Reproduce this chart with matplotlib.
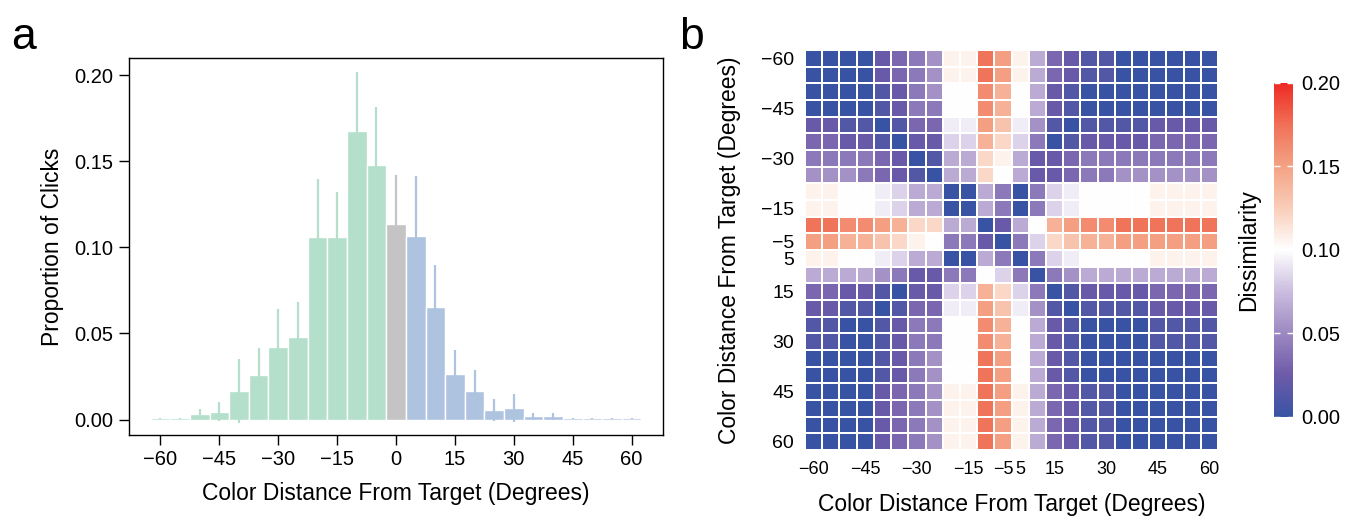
import numpy as np
import matplotlib
matplotlib.use('Agg')
from matplotlib import pyplot as plt
from matplotlib.colors import LinearSegmentedColormap

plt.rcParams['font.family'] = ['Liberation Sans', 'DejaVu Sans']

# Panel a: histogram of click distances
bin_centers = [-60, -55, -50, -45, -40, -35, -30, -25, -20, -15, -10, -5, 0,
               5, 10, 15, 20, 25, 30, 35, 40, 45, 50, 55, 60]
proportions = [0.0006, 0.0006, 0.0030, 0.0044, 0.0164, 0.0259, 0.0422, 0.0482,
               0.1063, 0.1059, 0.1675, 0.1477, 0.1133, 0.1067, 0.0654, 0.0265,
               0.0164, 0.0058, 0.0067, 0.0019, 0.0019, 0.0006, 0.0006, 0.0006, 0.0006]
errors = [0.0004, 0.0004, 0.0034, 0.0055, 0.0185, 0.0155, 0.0221, 0.0198,
          0.0335, 0.0261, 0.0344, 0.0339, 0.0290, 0.0350, 0.0242, 0.0138,
          0.0126, 0.0064, 0.0080, 0.0021, 0.0021, 0.0003, 0.0003, 0.0003, 0.0003]

# Panel b: dissimilarity matrix
dist_labels = [-60, -55, -50, -45, -40, -35, -30, -25, -20, -15, -10, -5,
               5, 10, 15, 20, 25, 30, 35, 40, 45, 50, 55, 60]
shown_ticks = [-60, -45, -30, -15, -5, 5, 15, 30, 45, 60]
dissim = [
    [0, 0, 0, 0, .022, .032, .042, .054, .107, .107, .173, .151, .107, .066, .032, .022, .012, .012, 0, 0, 0, 0, 0, 0],
    [0, 0, 0, 0, .022, .032, .042, .054, .107, .107, .173, .151, .107, .066, .032, .022, .012, .012, 0, 0, 0, 0, 0, 0],
    [0, 0, 0, 0, .012, .022, .042, .054, .100, .100, .161, .141, .100, .066, .022, .012, 0, 0, 0, 0, 0, 0, 0, 0],
    [0, 0, 0, 0, .012, .022, .042, .042, .100, .100, .161, .141, .100, .066, .022, .012, 0, 0, 0, 0, 0, 0, 0, 0],
    [.022, .022, .012, .012, 0, .012, .032, .032, .093, .093, .151, .131, .093, .054, .012, 0, .012, .012, .012, .012, .022, .022, .022, .022],
    [.032, .032, .022, .022, .012, 0, .022, .022, .083, .083, .141, .120, .083, .042, 0, .012, .022, .022, .022, .022, .032, .032, .032, .032],
    [.042, .042, .042, .042, .032, .022, 0, .012, .066, .066, .120, .107, .066, .022, .022, .032, .042, .042, .042, .042, .042, .042, .042, .042],
    [.054, .054, .054, .042, .032, .022, .012, 0, .066, .066, .120, .100, .066, .022, .022, .032, .042, .042, .054, .054, .054, .054, .054, .054],
    [.107, .107, .100, .100, .093, .083, .066, .066, 0, 0, .066, .042, 0, .042, .083, .093, .100, .100, .100, .100, .107, .107, .107, .107],
    [.107, .107, .100, .100, .093, .083, .066, .066, 0, 0, .066, .042, 0, .042, .083, .093, .100, .100, .100, .100, .107, .107, .107, .107],
    [.173, .173, .161, .161, .151, .141, .120, .120, .066, .066, 0, .022, .066, .100, .141, .151, .161, .161, .173, .173, .173, .173, .173, .173],
    [.151, .151, .141, .141, .131, .120, .107, .100, .042, .042, .022, 0, .042, .083, .120, .131, .141, .141, .151, .151, .151, .151, .151, .151],
    [.107, .107, .100, .100, .093, .083, .066, .066, 0, 0, .066, .042, 0, .042, .083, .093, .100, .100, .100, .100, .107, .107, .107, .107],
    [.066, .066, .066, .066, .054, .042, .022, .022, .042, .042, .100, .083, .042, 0, .042, .054, .066, .066, .066, .066, .066, .066, .066, .066],
    [.032, .032, .022, .022, .012, 0, .022, .022, .083, .083, .141, .120, .083, .042, 0, .012, .022, .022, .022, .022, .032, .032, .032, .032],
    [.022, .022, .012, .012, 0, .012, .032, .032, .093, .093, .151, .131, .093, .054, .012, 0, .012, .012, .012, .012, .022, .022, .022, .022],
    [.012, .012, 0, 0, .012, .022, .042, .042, .100, .100, .161, .141, .100, .066, .022, .012, 0, 0, 0, 0, .012, .012, .012, .012],
    [.012, .012, 0, 0, .012, .022, .042, .042, .100, .100, .161, .141, .100, .066, .022, .012, 0, 0, 0, 0, .012, .012, .012, .012],
    [0, 0, 0, 0, .012, .022, .042, .054, .100, .100, .173, .151, .100, .066, .022, .012, 0, 0, 0, 0, 0, 0, 0, 0],
    [0, 0, 0, 0, .012, .022, .042, .054, .100, .100, .173, .151, .100, .066, .022, .012, 0, 0, 0, 0, 0, 0, 0, 0],
    [0, 0, 0, 0, .022, .032, .042, .054, .107, .107, .173, .151, .107, .066, .032, .022, .012, .012, 0, 0, 0, 0, 0, 0],
    [0, 0, 0, 0, .022, .032, .042, .054, .107, .107, .173, .151, .107, .066, .032, .022, .012, .012, 0, 0, 0, 0, 0, 0],
    [0, 0, 0, 0, .022, .032, .042, .054, .107, .107, .173, .151, .107, .066, .032, .022, .012, .012, 0, 0, 0, 0, 0, 0],
    [0, 0, 0, 0, .022, .032, .042, .054, .107, .107, .173, .151, .107, .066, .032, .022, .012, .012, 0, 0, 0, 0, 0, 0],
]

GREEN = '#b3dfcb'
GRAY = '#c4c4c4'
BLUE = '#aec3e0'

fig = plt.figure(figsize=(13.61, 5.19), dpi=100)

# ---- panel a
ax1 = fig.add_axes([0.0948, 0.1618, 0.3924, 0.7264])
cols = [GREEN if c < 0 else (GRAY if c == 0 else BLUE) for c in bin_centers]
ax1.bar(bin_centers, proportions, width=5, color=cols, edgecolor='white', linewidth=1.0, zorder=2)
for c, p, e, col in zip(bin_centers, proportions, errors, cols):
    ax1.plot([c, c], [p - e, p + e], color=col, lw=1.6, solid_capstyle='butt', zorder=3)
ax1.set_xlim(-68, 68)
ax1.set_ylim(-0.009, 0.21)
ax1.set_xticks([-60, -45, -30, -15, 0, 15, 30, 45, 60])
ax1.set_yticks([0, 0.05, 0.10, 0.15, 0.20])
ax1.set_yticklabels(['0.00', '0.05', '0.10', '0.15', '0.20'])
ax1.tick_params(labelsize=14.5, length=7, width=1, direction='out', pad=4)
for s in ax1.spines.values():
    s.set_linewidth(1.0)
ax1.set_xlabel('Color Distance From Target (Degrees)', fontsize=16.5, labelpad=9)
ax1.set_ylabel('Proportion of Clicks', fontsize=16.5, labelpad=8)

# ---- panel b
cmap = LinearSegmentedColormap.from_list('dissim', [
    (0.0, '#3953a4'), (0.125, '#6e5ba9'), (0.25, '#9c89c1'), (0.375, '#cbbddf'),
    (0.5, '#ffffff'), (0.625, '#f9cdb9'), (0.75, '#f4a284'), (0.875, '#f07157'),
    (1.0, '#ee2a24')])

ax2 = fig.add_axes([0.5915, 0.1329, 0.3035, 0.7707])
n = len(dist_labels)
mesh = ax2.pcolormesh(np.arange(n + 1), np.arange(n + 1), np.array(dissim),
                      cmap=cmap, vmin=0, vmax=0.2, edgecolors='white', linewidth=1.2)
ax2.set_xlim(0, n)
ax2.set_ylim(n, 0)
tick_pos = [dist_labels.index(t) + 0.5 for t in shown_ticks]
ax2.set_xticks(tick_pos)
ax2.set_xticklabels([str(t).replace('-', '\u2212') for t in shown_ticks])
ax2.set_yticks(tick_pos)
ax2.set_yticklabels([str(t).replace('-', '\u2212') for t in shown_ticks])
ax2.tick_params(labelsize=14, length=0, pad=8)
ax2.tick_params(axis='x', labelsize=13)
for s in ax2.spines.values():
    s.set_visible(False)
ax2.set_xlabel('Color Distance From Target (Degrees)', fontsize=16.5, labelpad=11)
ax2.set_ylabel('Color Distance From Target (Degrees)', fontsize=16.5, labelpad=14)

cax = fig.add_axes([0.9361, 0.1971, 0.014, 0.6435])
cb = fig.colorbar(mesh, cax=cax)
cb.outline.set_visible(False)
cb.set_ticks([0, 0.05, 0.10, 0.15, 0.20])
cb.set_ticklabels(['0.00', '0.05', '0.10', '0.15', '0.20'])
cax.tick_params(labelsize=14.5, direction='in', color='white', length=4, width=1,
                left=True, right=True, labelleft=False, labelright=True, pad=6)
cax.yaxis.set_label_position('left')
cax.set_ylabel('Dissimilarity', fontsize=16.5, labelpad=10)

fig.text(0.008, 0.905, 'a', fontsize=32)
fig.text(0.499, 0.905, 'b', fontsize=32)

fig.savefig('out.png', dpi=100)
